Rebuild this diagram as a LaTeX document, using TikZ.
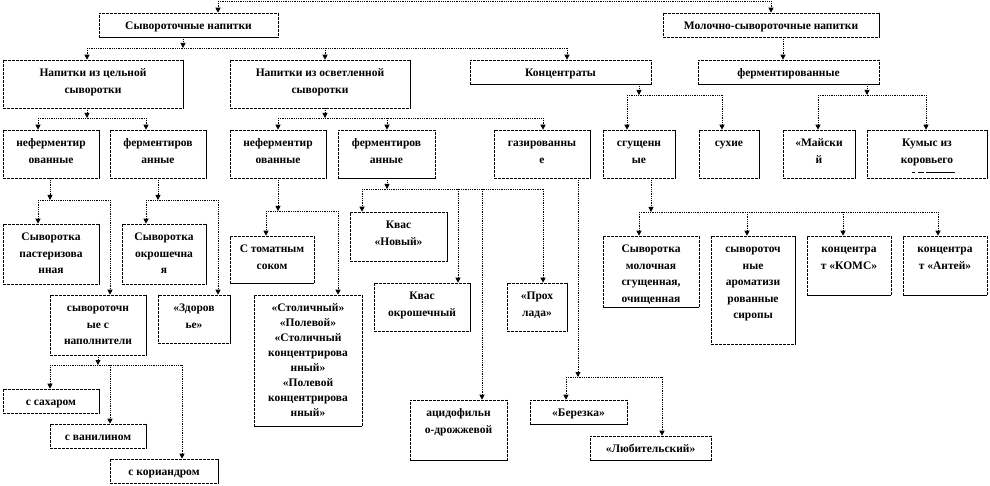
\documentclass[tikz,border=0pt]{standalone}
\usepackage{fontspec}
\setmainfont{Liberation Serif}
\usetikzlibrary{arrows.meta}
\tikzset{
  box/.style={draw, line width=0.6pt, dash pattern=on 3pt off 1pt, inner sep=0pt},
  boxedge/.style={line width=1pt, densely dotted},
  lbl/.style={anchor=north, inner sep=0pt, align=center, font=\fontsize{11.5}{16.5}\selectfont\bfseries},
  tightlbl/.style={font=\fontsize{11.5}{15}\selectfont\bfseries},
  conn/.style={line width=0.8pt, densely dotted},
  arr/.style={conn, -{Triangle[width=5pt,length=5pt]}},
}
\newcommand\bx[7][]{%
  \node[box, minimum width={#5-#3}, minimum height={#6-#4}] (#2) at ({(#3+#5)/2},{(#4+#6)/2}) {};
  \draw[boxedge] (#2.north east) -- (#2.south east) -- (#2.south west);
  \node[lbl,#1] (#2t) at ([yshift=-7pt]#2.north) {\rule{0pt}{10pt}#7};
}
\newcommand\mykid[3]{\draw[arr] (#2,#3) -- (#1.north -| #2,#3);}
\newcommand\mystem[3]{\draw[arr] (#1.south -| #2,0) -- (#2,#3);}
\newcommand\mybus[3]{\draw[conn] (#1,#3) -- (#2,#3);}
\begin{document}
\begin{tikzpicture}[x=1pt,y=-1pt]
\useasboundingbox (0,0) rectangle (990,486);
% level 0
\bx{sn}{99}{13}{278}{37}{Сывороточные напитки}
\bx{msn}{663}{13}{879}{37}{Молочно-сывороточные напитки}
% level 1
\bx{w}{3}{60}{183}{108}{Напитки из цельной\\сыворотки}
\bx{c}{230}{60}{410}{108}{Напитки из осветленной\\сыворотки}
\bx{k}{470}{60}{651}{84}{Концентраты}
\bx{fer}{698}{60}{879}{84}{ферментированные}
% level 2
\bx{wn}{3}{130}{99}{178}{неферментир\\ованные}
\bx{wf}{110}{130}{206}{178}{ферментиров\\анные}
\bx{cn}{230}{130}{326}{178}{неферментир\\ованные}
\bx{cf}{338}{130}{435}{178}{ферментиров\\анные}
\bx{gz}{494}{130}{590}{178}{газированны\\е}
\bx{sg}{603}{130}{675}{178}{сгущенн\\ые}
\bx{su}{699}{130}{759}{178}{сухие}
\bx{may}{783}{130}{855}{178}{«Майски\\й}
\bx{kum}{867}{130}{987}{178}{Кумыс из\\коровьего}
\draw[line width=0.8pt, dash pattern=on 3pt off 3pt on 6pt off 2pt on 40pt] (912,172) -- (955,172);
% level 3
\bx{past}{3}{224}{99}{284}{Сыворотка\\пастеризова\\нная}
\bx{okr}{122}{224}{206}{284}{Сыворотка\\окрошечна\\я}
\bx{tom}{230}{236}{314}{283}{С томатным\\соком}
\bx{kvn}{350}{212}{447}{261}{Квас\\«Новый»}
\bx{sm}{603}{236}{699}{307}{Сыворотка\\молочная\\сгущенная,\\очищенная}
\bx{sir}{711}{236}{795}{344}{сывороточ\\ные\\ароматизи\\рованные\\сиропы}
\bx{koms}{807}{236}{891}{295}{концентра\\т «КОМС»}
\bx{ant}{903}{236}{987}{295}{концентра\\т «Антей»}
\bx{nap}{50}{295}{146}{355}{сывороточн\\ые с\\наполнители}
\bx{zd}{158}{295}{230}{343}{«Здоров\\ье»}
\bx[tightlbl]{stol}{254}{295}{362}{426}{«Столичный»\\«Полевой»\\«Столичный\\концентрирова\\нный»\\«Полевой\\концентрирова\\нный»}
\bx{kvo}{374}{283}{470}{331}{Квас\\окрошечный}
\bx{pro}{507}{283}{567}{331}{«Прох\\лада»}
\bx{aci}{410}{400}{507}{460}{ацидофильн\\о-дрожжевой}
\bx{ber}{530}{400}{627}{424}{«Березка»}
\bx{lub}{590}{436}{711}{460}{«Любительский»}
\bx{sah}{3}{389}{99}{413}{с сахаром}
\bx{van}{50}{424}{146}{448}{с ванилином}
\bx{kor}{110}{459}{218}{483}{с кориандром}
% connectors
\coordinate (t1) at (218,1);
\coordinate (t2) at (771,1);
\draw[conn] (t1) -- (t2);
\draw[arr] (t1) -- (sn.north -| t1);
\draw[arr] (t2) -- (msn.north -| t2);
\mystem{sn}{183}{48} \mybus{87}{567}{48}
\mykid{w}{87}{48} \mykid{c}{325}{48} \mykid{k}{567}{48}
\draw[arr] (msn.south -| 783,0) -- (fer.north -| 783,0);
\mystem{w}{87}{118} \mybus{38}{146}{118}
\mykid{wn}{38}{118} \mykid{wf}{146}{118}
\mystem{c}{325}{118} \mybus{278}{543}{118}
\mykid{cn}{278}{118} \mykid{cf}{387}{118} \mykid{gz}{543}{118}
\mystem{k}{639}{95} \mybus{627}{722}{95}
\mykid{sg}{627}{95} \mykid{su}{722}{95}
\mystem{fer}{867}{95} \mybus{818}{926}{95}
\mykid{may}{818}{95} \mykid{kum}{926}{95}
\mystem{wn}{50}{200} \mybus{38}{110}{200}
\mykid{past}{38}{200} \mykid{nap}{110}{200}
\mystem{wf}{158}{200} \mybus{146}{218}{200}
\mykid{okr}{146}{200} \mykid{zd}{218}{200}
\mystem{cn}{278}{211} \mybus{266}{338}{211}
\mykid{tom}{266}{211} \mykid{stol}{338}{211}
\mystem{cf}{387}{189} \mybus{362}{543}{189}
\mykid{kvn}{362}{189} \mykid{kvo}{458}{189} \mykid{aci}{482}{189} \mykid{pro}{543}{189}
\mystem{gz}{578}{377} \mybus{566}{662}{377}
\mykid{ber}{566}{377} \mykid{lub}{662}{377}
\mystem{sg}{651}{212} \mybus{639}{938}{212}
\mykid{sm}{639}{212} \mykid{sir}{747}{212} \mykid{koms}{843}{212} \mykid{ant}{938}{212}
\mystem{nap}{98}{365} \mybus{50}{182}{365}
\mykid{sah}{50}{365} \mykid{van}{110}{365} \mykid{kor}{182}{365}
\end{tikzpicture}
\end{document}
